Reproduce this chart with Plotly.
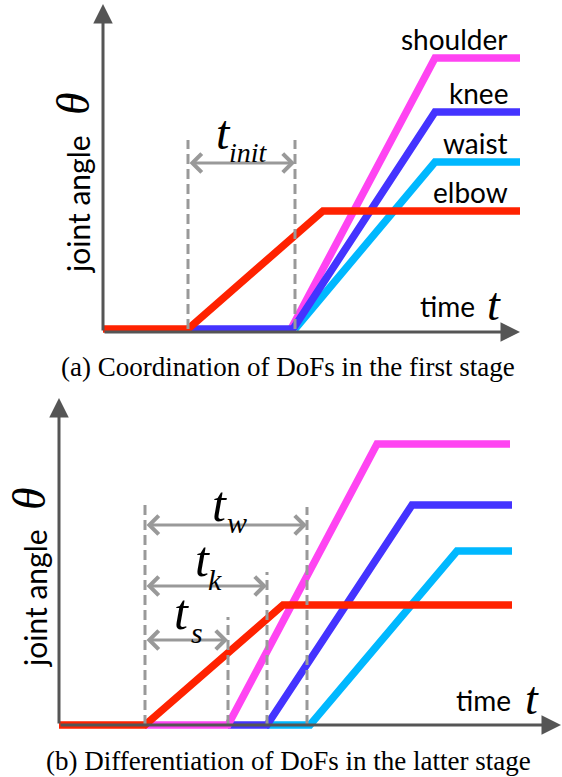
import plotly.graph_objects as go

W, H = 562, 777
TOP_H = 385          # height of the upper panel area in px

# ---------------- data (arbitrary time / angle units) ----------------
# (a) first stage
a_elbow_t = [0, 85, 220, 417]
a_elbow_q = [0, 0, 118, 118]
a_knee_t = [85, 190, 332, 417]
a_knee_q = [0, 0, 217, 217]
a_shoulder_t = [188, 332, 417]
a_shoulder_q = [0, 271, 271]
a_waist_t = [192, 332, 417]
a_waist_q = [0, 167, 167]
a_tinit = [85, 192]          # start / end of t_init

# (b) latter stage
b_elbow_t = [0, 86, 224, 453]
b_elbow_q = [0, 0, 120, 120]
b_shoulder_t = [86, 169, 318, 451]
b_shoulder_q = [0, 0, 281, 281]
b_knee_t = [169, 208, 353, 453]
b_knee_q = [0, 0, 220, 220]
b_waist_t = [208, 251, 398, 453]
b_waist_q = [0, 0, 174, 174]
b_start = 86
b_delay_names = ["w", "k", "s"]
b_delay_end = [248, 208, 169]

labels_a = ["shoulder", "knee", "waist", "elbow"]

C_PINK, C_BLUE, C_CYAN, C_RED = "#FF44F2", "#4433FF", "#00B8FF", "#FF2200"
C_AXIS, C_DIM = "#555555", "#999999"
SANS = "Lato"
SERIF = "Liberation Serif"

fig = go.Figure()

def line(t, q, color, xa, ya):
    fig.add_trace(go.Scatter(x=t, y=q, mode="lines", xaxis=xa, yaxis=ya,
                             line=dict(color=color, width=7.5), hoverinfo="skip",
                             cliponaxis=False))

# panel (a) traces
line(a_waist_t, a_waist_q, C_CYAN, "x", "y")
line(a_shoulder_t, a_shoulder_q, C_PINK, "x", "y")
line(a_knee_t, a_knee_q, C_BLUE, "x", "y")
line(a_elbow_t, a_elbow_q, C_RED, "x", "y")
# panel (b) traces
line(b_waist_t, b_waist_q, C_CYAN, "x2", "y2")
line(b_knee_t, b_knee_q, C_BLUE, "x2", "y2")
line(b_shoulder_t, b_shoulder_q, C_PINK, "x2", "y2")
line(b_elbow_t, b_elbow_q, C_RED, "x2", "y2")

ann = []
shapes = []

def axis_arrow(x0, y0, x1, y1, xr, yr):
    ann.append(dict(x=x1, y=y1, ax=x0, ay=y0, xref=xr, yref=yr, axref=xr, ayref=yr,
                    text="", showarrow=True, arrowhead=2, arrowsize=1.3,
                    arrowwidth=3, arrowcolor=C_AXIS, standoff=0))

def dim_arrow(x0, x1, y, xr, yr):
    ann.append(dict(x=x1, y=y, ax=x0, ay=y, xref=xr, yref=yr, axref=xr, ayref=yr,
                    text="", showarrow=True, arrowside="end+start",
                    arrowhead=4, startarrowhead=4, arrowsize=1.2, startarrowsize=1.2,
                    arrowwidth=3, arrowcolor=C_DIM, standoff=0, startstandoff=0))

def dashed(x, y1, xr, yr):
    shapes.append(dict(type="line", x0=x, x1=x, y0=0, y1=y1, xref=xr, yref=yr,
                       line=dict(color=C_DIM, width=3, dash="10px,5px")))

def txt(s, x, y, xr, yr, size, family=SANS, xanchor="center", yanchor="middle",
        xshift=0, yshift=0, angle=0):
    ann.append(dict(text=s, x=x, y=y, xref=xr, yref=yr, showarrow=False,
                    xanchor=xanchor, yanchor=yanchor, xshift=xshift, yshift=yshift,
                    textangle=angle,
                    font=dict(family=family, size=size, color="#000000")))

# ---- panel (a) decorations
axis_arrow(0, -3, 0, 325, "x", "y")
axis_arrow(0, -3, 417, -3, "x", "y")
dashed(a_tinit[0], 189, "x", "y")
dashed(a_tinit[1], 189, "x", "y")
dim_arrow(a_tinit[0], a_tinit[1], 166, "x", "y")
txt("<i>t</i>", a_tinit[0] + 35, 197, "x", "y", 48, SERIF)
txt("<i>init</i>", a_tinit[0] + 60, 177, "x", "y", 28, SERIF)

for name, t, q in zip(labels_a, [a_shoulder_t, a_knee_t, a_waist_t, a_elbow_t],
                      [a_shoulder_q, a_knee_q, a_waist_q, a_elbow_q]):
    txt(name, t[-1], q[-1], "x", "y", 28, xanchor="right", xshift=-10, yshift=19)

txt("time", 374, 23, "x", "y", 28, xanchor="right")
txt("<i>t</i>", 382, 25, "x", "y", 46, SERIF, xanchor="left")
txt("joint angle", -25, 124, "x", "y", 30, angle=-90)
txt("<i>θ</i>", -30, 225, "x", "y", 46, SERIF, angle=-90)

# ---- panel (b) decorations
axis_arrow(0, 0, 0, 327, "x2", "y2")
axis_arrow(0, 0, 502, 0, "x2", "y2")
dashed(b_start, 222, "x2", "y2")
dash_top = [218, 153, 108]
arrow_y = [200, 139, 85]
t_pos = [(160, 221, 178, 203), (143, 166, 156, 146), (122, 113, 138, 93)]
for nm, xe, top, ay, (tx, ty, sx, sy) in zip(b_delay_names, b_delay_end, dash_top, arrow_y, t_pos):
    dashed(xe, top, "x2", "y2")
    dim_arrow(b_start, xe, ay, "x2", "y2")
    txt("<i>t</i>", tx, ty, "x2", "y2", 50, SERIF)
    txt("<i>%s</i>" % nm, sx, sy, "x2", "y2", 30, SERIF)

txt("time", 454, 25, "x2", "y2", 28, xanchor="right")
txt("<i>t</i>", 464, 27, "x2", "y2", 46, SERIF, xanchor="left")
txt("joint angle", -24, 126, "x2", "y2", 30, angle=-90)
txt("<i>θ</i>", -30, 226, "x2", "y2", 46, SERIF, angle=-90)

# captions
txt("(a) Coordination of DoFs in the first stage", 288 / W, 1 - 367 / H,
    "paper", "paper", 27, SERIF)
txt("(b) Differentiation of DoFs in the latter stage", 288 / W, 1 - 761 / H,
    "paper", "paper", 27, SERIF)

AX = dict(visible=False, fixedrange=True)
fig.update_layout(
    width=W, height=H, margin=dict(l=0, r=0, t=0, b=0),
    paper_bgcolor="white", plot_bgcolor="rgba(0,0,0,0)", showlegend=False,
    xaxis=dict(domain=[0, 1], range=[-103, W - 103], anchor="y", **AX),
    yaxis=dict(domain=[1 - TOP_H / H, 1], range=[329 - TOP_H, 329], anchor="x", **AX),
    xaxis2=dict(domain=[0, 1], range=[-59, W - 59], anchor="y2", **AX),
    yaxis2=dict(domain=[0, 1 - TOP_H / H], range=[725 - H, 725 - TOP_H], anchor="x2", **AX),
    annotations=ann, shapes=shapes,
)
fig.write_html("out.html", config={"displayModeBar": False},
               post_script="document.body.style.margin='0';document.body.style.overflow='hidden';")
